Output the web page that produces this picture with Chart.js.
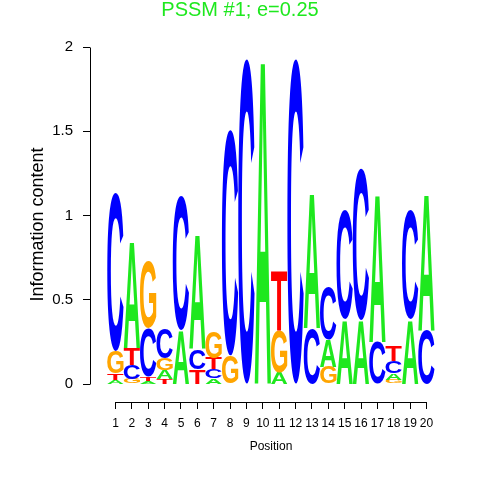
<!DOCTYPE html>
<html>
<head>
<meta charset="utf-8">
<script src="https://cdn.jsdelivr.net/npm/chart.js@4"></script>
<style>
  html, body { margin: 0; padding: 0; background: #fff; }
  #logo { display: block; }
</style>
</head>
<body>
<canvas id="logo" width="480" height="480"></canvas>
<script>
// Information content of each base at each motif position
const positions = [1, 2, 3, 4, 5, 6, 7, 8, 9, 10, 11, 12, 13, 14, 15, 16, 17, 18, 19, 20];
const heightA = [0.025, 0.63, 0.02, 0.05, 0.32, 0.68, 0.035, 0, 0, 1.93, 0.07, 0, 0.80, 0.16, 0.38, 0.38, 0.88, 0.04, 0.38, 0.81];
const heightC = [0.94, 0.085, 0.29, 0.18, 0.80, 0.12, 0.055, 1.34, 1.93, 0, 0, 1.93, 0.33, 0.31, 0.65, 0.90, 0.25, 0.07, 0.65, 0.32];
const heightG = [0.13, 0.03, 0.395, 0.07, 0, 0, 0.155, 0.17, 0, 0, 0.25, 0, 0, 0.10, 0, 0, 0, 0.025, 0, 0];
const heightT = [0.04, 0.10, 0.025, 0.03, 0, 0.09, 0.065, 0, 0, 0, 0.355, 0, 0, 0, 0, 0, 0, 0.095, 0, 0];
const yTicks = [0, 0.5, 1, 1.5, 2];

const bases = ["A", "C", "G", "T"];
const baseColors = { A: "#1ee81e", C: "#0000ff", G: "#ffa500", T: "#ff0000" };
const byBase = { A: heightA, C: heightC, G: heightG, T: heightT };

// each column is stacked smallest letter at the bottom, so build 4 layers by rank
const layers = [0, 1, 2, 3].map(() => ({ values: [], letters: [] }));
positions.forEach((p, i) => {
  const column = bases.map(b => ({ b, h: byBase[b][i] })).sort((u, v) => u.h - v.h);
  column.forEach((c, k) => {
    layers[k].values.push(c.h);
    layers[k].letters.push(c.b);
  });
});

// stretch a glyph into every bar rectangle
const letterPlugin = {
  id: "letters",
  afterDatasetsDraw(chart) {
    const ctx = chart.ctx;
    ctx.save();
    ctx.font = "bold 100px 'Liberation Sans', Arial, sans-serif";
    ctx.textAlign = "left";
    ctx.textBaseline = "alphabetic";
    chart.data.datasets.forEach((ds, d) => {
      chart.getDatasetMeta(d).data.forEach((bar, i) => {
        if (!ds.data[i].y) return;
        const { x, y, base, width } = bar.getProps(["x", "y", "base", "width"], true);
        const h = base - y;
        const letter = ds.letters[i];
        const m = ctx.measureText(letter);
        const gw = m.actualBoundingBoxLeft + m.actualBoundingBoxRight;
        const gh = m.actualBoundingBoxAscent + m.actualBoundingBoxDescent;
        ctx.save();
        ctx.translate(x - width / 2, y);
        ctx.scale(width / gw, h / gh);
        ctx.fillStyle = baseColors[letter];
        ctx.fillText(letter, m.actualBoundingBoxLeft, m.actualBoundingBoxAscent);
        ctx.restore();
      });
    });
    ctx.restore();
  }
};

// R style detached axis lines: only from first to last tick
const axisLines = {
  id: "axisLines",
  afterDraw(chart) {
    const { ctx, chartArea, scales } = chart;
    const al = p => Math.round(p - 0.5) + 0.5;
    ctx.save();
    ctx.strokeStyle = "#000";
    ctx.lineWidth = 1;
    ctx.beginPath();
    const ax = al(chartArea.left);
    ctx.moveTo(ax, al(scales.y.getPixelForValue(yTicks[0])));
    ctx.lineTo(ax, al(scales.y.getPixelForValue(yTicks[yTicks.length - 1])));
    const ay = al(chartArea.bottom);
    ctx.moveTo(al(scales.x.getPixelForValue(positions[0])), ay);
    ctx.lineTo(al(scales.x.getPixelForValue(positions[positions.length - 1])), ay);
    ctx.stroke();
    ctx.restore();
  }
};

const family = "'Liberation Sans', Arial, sans-serif";

new Chart(document.getElementById("logo"), {
  type: "bar",
  data: {
    datasets: layers.map((layer, k) => ({
      label: "rank " + (k + 1),
      data: positions.map((p, i) => ({ x: p, y: layer.values[i] })),
      letters: layer.letters,
      backgroundColor: "rgba(0,0,0,0)",
      borderWidth: 0,
      barPercentage: 1,
      categoryPercentage: 1
    }))
  },
  options: {
    responsive: false,
    animation: false,
    devicePixelRatio: 1,
    layout: { padding: 0 },
    plugins: {
      legend: { display: false },
      tooltip: { enabled: false },
      title: {
        display: true,
        text: "PSSM #1; e=0.25",
        color: "#1ee81e",
        font: { family, size: 20, weight: "normal", lineHeight: 1 },
        padding: { top: 0, bottom: 27 }
      }
    },
    scales: {
      x: {
        type: "linear",
        stacked: true,
        offset: false,
        min: -0.558,
        max: 21.558,
        afterBuildTicks: s => { s.ticks = positions.map(v => ({ value: v })); },
        afterFit: s => { s.height = 78; },
        grid: { display: true, offset: false, drawOnChartArea: false, tickLength: 7, color: "#000" },
        border: { display: false },
        ticks: { autoSkip: false, maxRotation: 0, color: "#000", font: { family, size: 12 }, padding: 7 },
        title: { display: true, text: "Position", color: "#000", font: { family, size: 12 }, padding: { top: 0, bottom: 26 } }
      },
      y: {
        stacked: true,
        min: -0.1065,
        max: 2,
        afterBuildTicks: s => { s.ticks = yTicks.map(v => ({ value: v })); },
        afterFit: s => { s.width = 90; },
        grid: { display: true, offset: false, drawOnChartArea: false, tickLength: 7, color: "#000" },
        border: { display: false },
        ticks: { color: "#000", font: { family, size: 15 }, padding: 10, callback: v => String(v) },
        title: { display: true, text: "Information content", color: "#000", font: { family, size: 18 }, padding: { top: 27, bottom: 0 } }
      },
      // empty right margin so the plot sits where the reference has it
      margin: {
        position: "right",
        display: true,
        afterFit: s => { s.width = 28; },
        grid: { display: false },
        border: { display: false },
        ticks: { display: false }
      }
    }
  },
  plugins: [letterPlugin, axisLines]
});
</script>
</body>
</html>
